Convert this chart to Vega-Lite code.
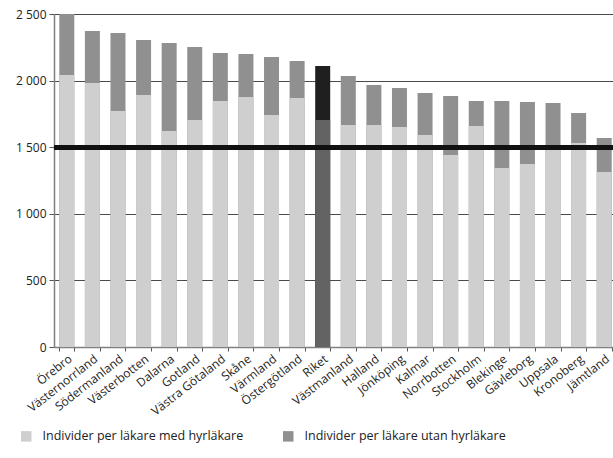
{
  "$schema": "https://vega.github.io/schema/vega-lite/v6.json",
  "width": 559,
  "height": 333,
  "autosize": {"type": "none"},
  "padding": {"left": 54, "top": 14, "right": 0, "bottom": 111},
  "background": "white",
  "config": {
    "font": "Open Sans",
    "view": {"stroke": null}
  },
  "data": {
    "values": [
      {"region": "Örebro", "series": "Individer per läkare med hyrläkare", "value": 2042},
      {"region": "Örebro", "series": "Individer per läkare utan hyrläkare", "value": 2500},
      {"region": "Västernorrland", "series": "Individer per läkare med hyrläkare", "value": 1982},
      {"region": "Västernorrland", "series": "Individer per läkare utan hyrläkare", "value": 2372},
      {"region": "Södermanland", "series": "Individer per läkare med hyrläkare", "value": 1772},
      {"region": "Södermanland", "series": "Individer per läkare utan hyrläkare", "value": 2357},
      {"region": "Västerbotten", "series": "Individer per läkare med hyrläkare", "value": 1892},
      {"region": "Västerbotten", "series": "Individer per läkare utan hyrläkare", "value": 2305},
      {"region": "Dalarna", "series": "Individer per läkare med hyrläkare", "value": 1622},
      {"region": "Dalarna", "series": "Individer per läkare utan hyrläkare", "value": 2282},
      {"region": "Gotland", "series": "Individer per läkare med hyrläkare", "value": 1704},
      {"region": "Gotland", "series": "Individer per läkare utan hyrläkare", "value": 2252},
      {"region": "Västra Götaland", "series": "Individer per läkare med hyrläkare", "value": 1847},
      {"region": "Västra Götaland", "series": "Individer per läkare utan hyrläkare", "value": 2207},
      {"region": "Skåne", "series": "Individer per läkare med hyrläkare", "value": 1877},
      {"region": "Skåne", "series": "Individer per läkare utan hyrläkare", "value": 2200},
      {"region": "Värmland", "series": "Individer per läkare med hyrläkare", "value": 1742},
      {"region": "Värmland", "series": "Individer per läkare utan hyrläkare", "value": 2177},
      {"region": "Östergötland", "series": "Individer per läkare med hyrläkare", "value": 1869},
      {"region": "Östergötland", "series": "Individer per läkare utan hyrläkare", "value": 2147},
      {"region": "Riket", "series": "Individer per läkare med hyrläkare", "value": 1704},
      {"region": "Riket", "series": "Individer per läkare utan hyrläkare", "value": 2110},
      {"region": "Västmanland", "series": "Individer per läkare med hyrläkare", "value": 1667},
      {"region": "Västmanland", "series": "Individer per läkare utan hyrläkare", "value": 2035},
      {"region": "Halland", "series": "Individer per läkare med hyrläkare", "value": 1667},
      {"region": "Halland", "series": "Individer per läkare utan hyrläkare", "value": 1967},
      {"region": "Jönköping", "series": "Individer per läkare med hyrläkare", "value": 1652},
      {"region": "Jönköping", "series": "Individer per läkare utan hyrläkare", "value": 1944},
      {"region": "Kalmar", "series": "Individer per läkare med hyrläkare", "value": 1592},
      {"region": "Kalmar", "series": "Individer per läkare utan hyrläkare", "value": 1907},
      {"region": "Norrbotten", "series": "Individer per läkare med hyrläkare", "value": 1441},
      {"region": "Norrbotten", "series": "Individer per läkare utan hyrläkare", "value": 1884},
      {"region": "Stockholm", "series": "Individer per läkare med hyrläkare", "value": 1659},
      {"region": "Stockholm", "series": "Individer per läkare utan hyrläkare", "value": 1847},
      {"region": "Blekinge", "series": "Individer per läkare med hyrläkare", "value": 1344},
      {"region": "Blekinge", "series": "Individer per läkare utan hyrläkare", "value": 1847},
      {"region": "Gävleborg", "series": "Individer per läkare med hyrläkare", "value": 1374},
      {"region": "Gävleborg", "series": "Individer per läkare utan hyrläkare", "value": 1839},
      {"region": "Uppsala", "series": "Individer per läkare med hyrläkare", "value": 1495},
      {"region": "Uppsala", "series": "Individer per läkare utan hyrläkare", "value": 1832},
      {"region": "Kronoberg", "series": "Individer per läkare med hyrläkare", "value": 1532},
      {"region": "Kronoberg", "series": "Individer per läkare utan hyrläkare", "value": 1757},
      {"region": "Jämtland", "series": "Individer per läkare med hyrläkare", "value": 1314},
      {"region": "Jämtland", "series": "Individer per läkare utan hyrläkare", "value": 1569}
    ]
  },
  "encoding": {
    "x": {
      "field": "region",
      "type": "nominal",
      "sort": null,
      "title": null,
      "scale": {"range": [0, 563], "paddingInner": 0.414, "paddingOuter": 0.207},
      "axis": {
        "labelAngle": -38,
        "labelFontSize": 12,
        "labelColor": "#222222",
        "domainColor": "#808080",
        "domainWidth": 1.5,
        "tickColor": "#555555",
        "tickSize": 4,
        "tickBand": "extent",
        "labelPadding": 2
      }
    },
    "y": {
      "field": "value",
      "type": "quantitative",
      "stack": null,
      "title": null,
      "scale": {"domain": [0, 2500], "nice": false},
      "axis": {
        "values": [0, 500, 1000, 1500, 2000, 2500],
        "labelExpr": "replace(format(datum.value, ','), ',', ' ')",
        "labelFontSize": 12,
        "labelColor": "#222222",
        "labelPadding": 3,
        "domainColor": "#808080",
        "domainWidth": 1.5,
        "tickColor": "#555555",
        "tickSize": 5,
        "grid": true,
        "gridColor": "#4a4a4a",
        "gridWidth": 1
      }
    }
  },
  "layer": [
    {
      "transform": [{"filter": "datum.series === 'Individer per läkare utan hyrläkare'"}],
      "mark": {"type": "bar"},
      "encoding": {
        "color": {
          "condition": {"test": "datum.region === 'Riket'", "value": "#1f1f1f"},
          "field": "series",
          "type": "nominal",
          "scale": {
            "domain": ["Individer per läkare med hyrläkare", "Individer per läkare utan hyrläkare"],
            "range": ["#cfcfcf", "#909090"]
          },
          "legend": {
            "title": null,
            "orient": "none",
            "direction": "horizontal",
            "legendX": -34,
            "legendY": 416,
            "symbolType": "square",
            "symbolSize": 110,
            "symbolStrokeWidth": 0,
            "labelFontSize": 12.5,
            "labelColor": "#222222",
            "labelLimit": 0,
            "labelOffset": 10,
            "columnPadding": 38
          }
        }
      }
    },
    {
      "transform": [{"filter": "datum.series === 'Individer per läkare med hyrläkare'"}],
      "mark": {"type": "bar"},
      "encoding": {
        "color": {
          "condition": {"test": "datum.region === 'Riket'", "value": "#636363"},
          "field": "series",
          "type": "nominal"
        }
      }
    },
    {
      "mark": {"type": "rule", "color": "#111111", "strokeWidth": 4},
      "encoding": {"y": {"datum": 1500}, "x": {"value": 0}, "x2": {"value": 559}}
    }
  ]
}
